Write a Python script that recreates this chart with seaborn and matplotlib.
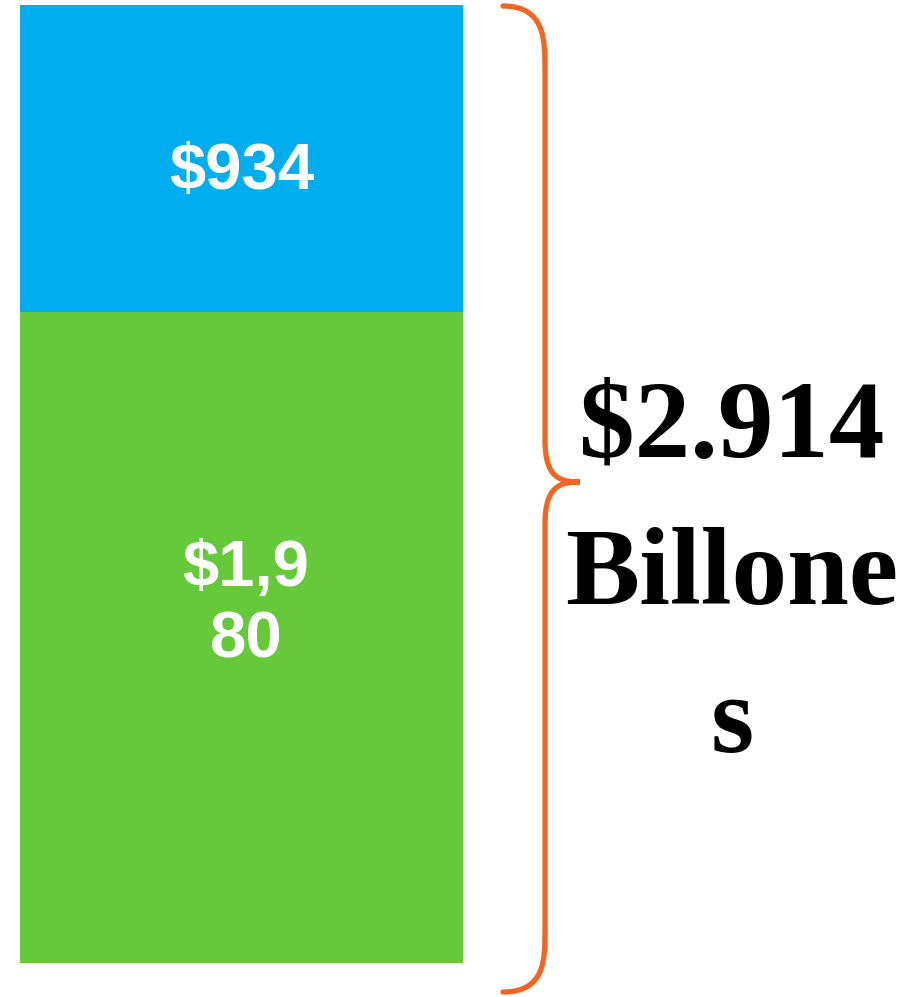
import matplotlib
matplotlib.use("Agg")
import matplotlib.pyplot as plt
import seaborn as sns
import pandas as pd
from matplotlib.path import Path
from matplotlib.patches import PathPatch

categories = ["Total"]
bottom_values = [1980]
top_values = [934]
bottom_labels = ["$1,9\n80"]
top_labels = ["$934"]
total_label = "$2.914\nBillone\ns"

sns.set_theme(style="white")
W, H = 917, 997
fig = plt.figure(figsize=(W / 100, H / 100), dpi=100)
ax = fig.add_axes([20 / W, 34 / H, 443 / W, 958 / H])

totals = [b + t for b, t in zip(bottom_values, top_values)]
df_tot = pd.DataFrame({"cat": categories, "v": totals})
df_bot = pd.DataFrame({"cat": categories, "v": bottom_values})
sns.barplot(data=df_tot, x="cat", y="v", color="#00AEEF", saturation=1, width=1.0, ax=ax)
sns.barplot(data=df_bot, x="cat", y="v", color="#66C93A", saturation=1, width=1.0, ax=ax)
for p in ax.patches:
    p.set_edgecolor("none")
ax.set_xlim(-0.5, 0.5)
ax.set_ylim(0, totals[0])
ax.axis("off")

for i in range(len(categories)):
    ax.text(i, bottom_values[i] + top_values[i] * 0.455, top_labels[i], ha="center", va="center",
            color="white", fontsize=47, fontweight="bold", family="Liberation Sans")
    ax.text(i + 0.01, bottom_values[i] * 0.55, bottom_labels[i], ha="center", va="center",
            color="white", fontsize=47, fontweight="bold", family="Liberation Sans",
            linespacing=1.25)

# curly brace in figure pixel coords (y from top)
def P(x, y):
    return (x / W, 1 - y / H)
verts = [P(503, 6), P(545, 6), P(545, 40), P(545, 70),
         P(545, 440),
         P(545, 478), P(560, 482), P(580, 482),
         P(560, 482), P(545, 486), P(545, 524),
         P(545, 930),
         P(545, 960), P(545, 992), P(503, 992)]
codes = [Path.MOVETO, Path.CURVE4, Path.CURVE4, Path.CURVE4,
         Path.LINETO,
         Path.CURVE4, Path.CURVE4, Path.CURVE4,
         Path.CURVE4, Path.CURVE4, Path.CURVE4,
         Path.LINETO,
         Path.CURVE4, Path.CURVE4, Path.CURVE4]
patch = PathPatch(Path(verts, codes), facecolor="none", edgecolor="#F26522",
                  linewidth=3.8, transform=fig.transFigure, capstyle="round")
fig.add_artist(patch)

fig.text(732 / W, 1 - 577 / H, total_label, ha="center", va="center", fontsize=80,
         fontweight="bold", family="Liberation Serif", color="black", linespacing=1.62)

fig.savefig("out.png", dpi=100, facecolor="white")
